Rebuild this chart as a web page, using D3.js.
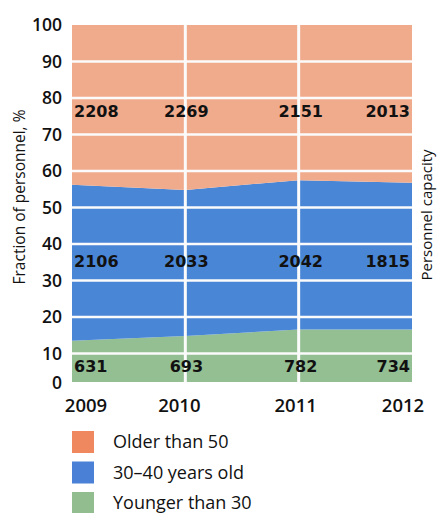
<!DOCTYPE html>
<html>
<head>
<meta charset="utf-8">
<script src="https://cdn.jsdelivr.net/npm/d3@7"></script>
<style>
  html, body { margin: 0; padding: 0; background: #ffffff; }
  svg { display: block; }
</style>
</head>
<body>
<svg id="chart" width="437" height="513"></svg>
<script>
// ---- data ----
const years = [2009, 2010, 2011, 2012];
const seriesNames = ["Younger than 30", "30\u201340 years old", "Older than 50"];
const youngerPct = [13.5, 14.8, 16.6, 16.6];
const middlePct = [42.7, 40.0, 40.9, 40.2];
const olderPct = [43.8, 45.2, 42.5, 43.2];
const youngerCount = [631, 693, 782, 734];
const middleCount = [2106, 2033, 2042, 1815];
const olderCount = [2208, 2269, 2151, 2013];
const yTicks = [0, 10, 20, 30, 40, 50, 60, 70, 80, 90, 100];
const legendOrder = ["Older than 50", "30\u201340 years old", "Younger than 30"];

// ---- styling / layout ----
const areaColors = {
  "Younger than 30": "#93bf93",
  "30\u201340 years old": "#4a86d6",
  "Older than 50": "#f0ab8d"
};
const legendColors = {
  "Younger than 30": "#92bd8f",
  "30\u201340 years old": "#4a80d6",
  "Older than 50": "#ef875f"
};
const plotLeft = 72, plotRight = 412, plotTop = 25, zeroY = 390, plotBottom = 382;
const font = "'Open Sans', 'DejaVu Sans', sans-serif";

const svg = d3.select("#chart");

const rows = years.map((yr, i) => ({
  year: yr,
  "Younger than 30": youngerPct[i],
  "30\u201340 years old": middlePct[i],
  "Older than 50": olderPct[i]
}));

const x = d3.scaleLinear().domain(d3.extent(years)).range([plotLeft, plotRight]);
const y = d3.scaleLinear().domain([0, 100]).range([zeroY, plotTop]);

const stack = d3.stack().keys(seriesNames);
const stacked = stack(rows);

svg.append("defs").append("clipPath").attr("id", "plotclip")
  .append("rect")
  .attr("x", plotLeft).attr("y", plotTop)
  .attr("width", plotRight - plotLeft).attr("height", plotBottom - plotTop);

const plot = svg.append("g").attr("clip-path", "url(#plotclip)");

const area = d3.area()
  .x(d => x(d.data.year))
  .y0(d => y(d[0]))
  .y1(d => y(Math.min(d[1], 100)));

plot.selectAll("path.layer")
  .data(stacked)
  .join("path")
  .attr("class", "layer")
  .attr("d", area)
  .attr("fill", d => areaColors[d.key]);

// gridlines
plot.selectAll("line.hgrid")
  .data(yTicks.filter(t => t > 0 && t < 100))
  .join("line")
  .attr("class", "hgrid")
  .attr("x1", plotLeft).attr("x2", plotRight)
  .attr("y1", d => y(d)).attr("y2", d => y(d))
  .attr("stroke", "#fbfbfb").attr("stroke-width", 2.6);

plot.selectAll("line.vgrid")
  .data(years.slice(1, -1))
  .join("line")
  .attr("class", "vgrid")
  .attr("x1", d => x(d)).attr("x2", d => x(d))
  .attr("y1", plotTop).attr("y2", plotBottom)
  .attr("stroke", "#fbfbfb").attr("stroke-width", 3);

// value labels
const labelLevels = [6.6, 35.2, 76.3];
const countSets = [youngerCount, middleCount, olderCount];
const anchors = ["start", "middle", "middle", "end"];
const dxs = [2, 1, 2, -2];
countSets.forEach((counts, si) => {
  svg.append("g").selectAll("text")
    .data(counts)
    .join("text")
    .attr("x", (d, i) => x(years[i]) + dxs[i])
    .attr("y", y(labelLevels[si]))
    .attr("dy", "0.36em")
    .attr("text-anchor", (d, i) => anchors[i])
    .attr("font-family", "'DejaVu Sans', sans-serif")
    .attr("font-weight", "bold")
    .attr("font-size", 16)
    .attr("fill", "#111")
    .text(d => d);
});

// y axis tick labels
svg.append("g").selectAll("text")
  .data(yTicks)
  .join("text")
  .attr("x", 62)
  .attr("y", d => Math.min(y(d), plotBottom + 1))
  .attr("dy", "0.36em")
  .attr("text-anchor", "end")
  .attr("font-family", font)
  .attr("font-weight", 600)
  .attr("font-size", 17.5)
  .attr("fill", "#111")
  .text(d => d);

// x axis tick labels
const xLabelShift = [14, -6, -3, -9];
svg.append("g").selectAll("text")
  .data(years)
  .join("text")
  .attr("x", (d, i) => x(d) + xLabelShift[i])
  .attr("y", 405)
  .attr("dy", "0.36em")
  .attr("text-anchor", "middle")
  .attr("font-family", font)
  .attr("font-weight", 600)
  .attr("font-size", 18.5)
  .attr("fill", "#111")
  .text(d => d);

// axis titles
svg.append("text")
  .attr("transform", "translate(25,197) rotate(-90)")
  .attr("text-anchor", "middle")
  .attr("font-family", font)
  .attr("font-size", 15.5)
  .attr("fill", "#111")
  .text("Fraction of personnel, %");

svg.append("text")
  .attr("transform", "translate(432,215) rotate(-90)")
  .attr("text-anchor", "middle")
  .attr("font-family", font)
  .attr("font-size", 15)
  .attr("fill", "#111")
  .text("Personnel capacity");

// legend
const legend = svg.append("g").selectAll("g")
  .data(legendOrder)
  .join("g")
  .attr("transform", (d, i) => `translate(72,${431 + i * 30.5})`);
legend.append("rect")
  .attr("width", 22).attr("height", 22)
  .attr("fill", d => legendColors[d]);
legend.append("text")
  .attr("x", 41).attr("y", 11)
  .attr("dy", "0.36em")
  .attr("font-family", font)
  .attr("font-size", 18)
  .attr("fill", "#111")
  .text(d => d);
</script>
</body>
</html>
